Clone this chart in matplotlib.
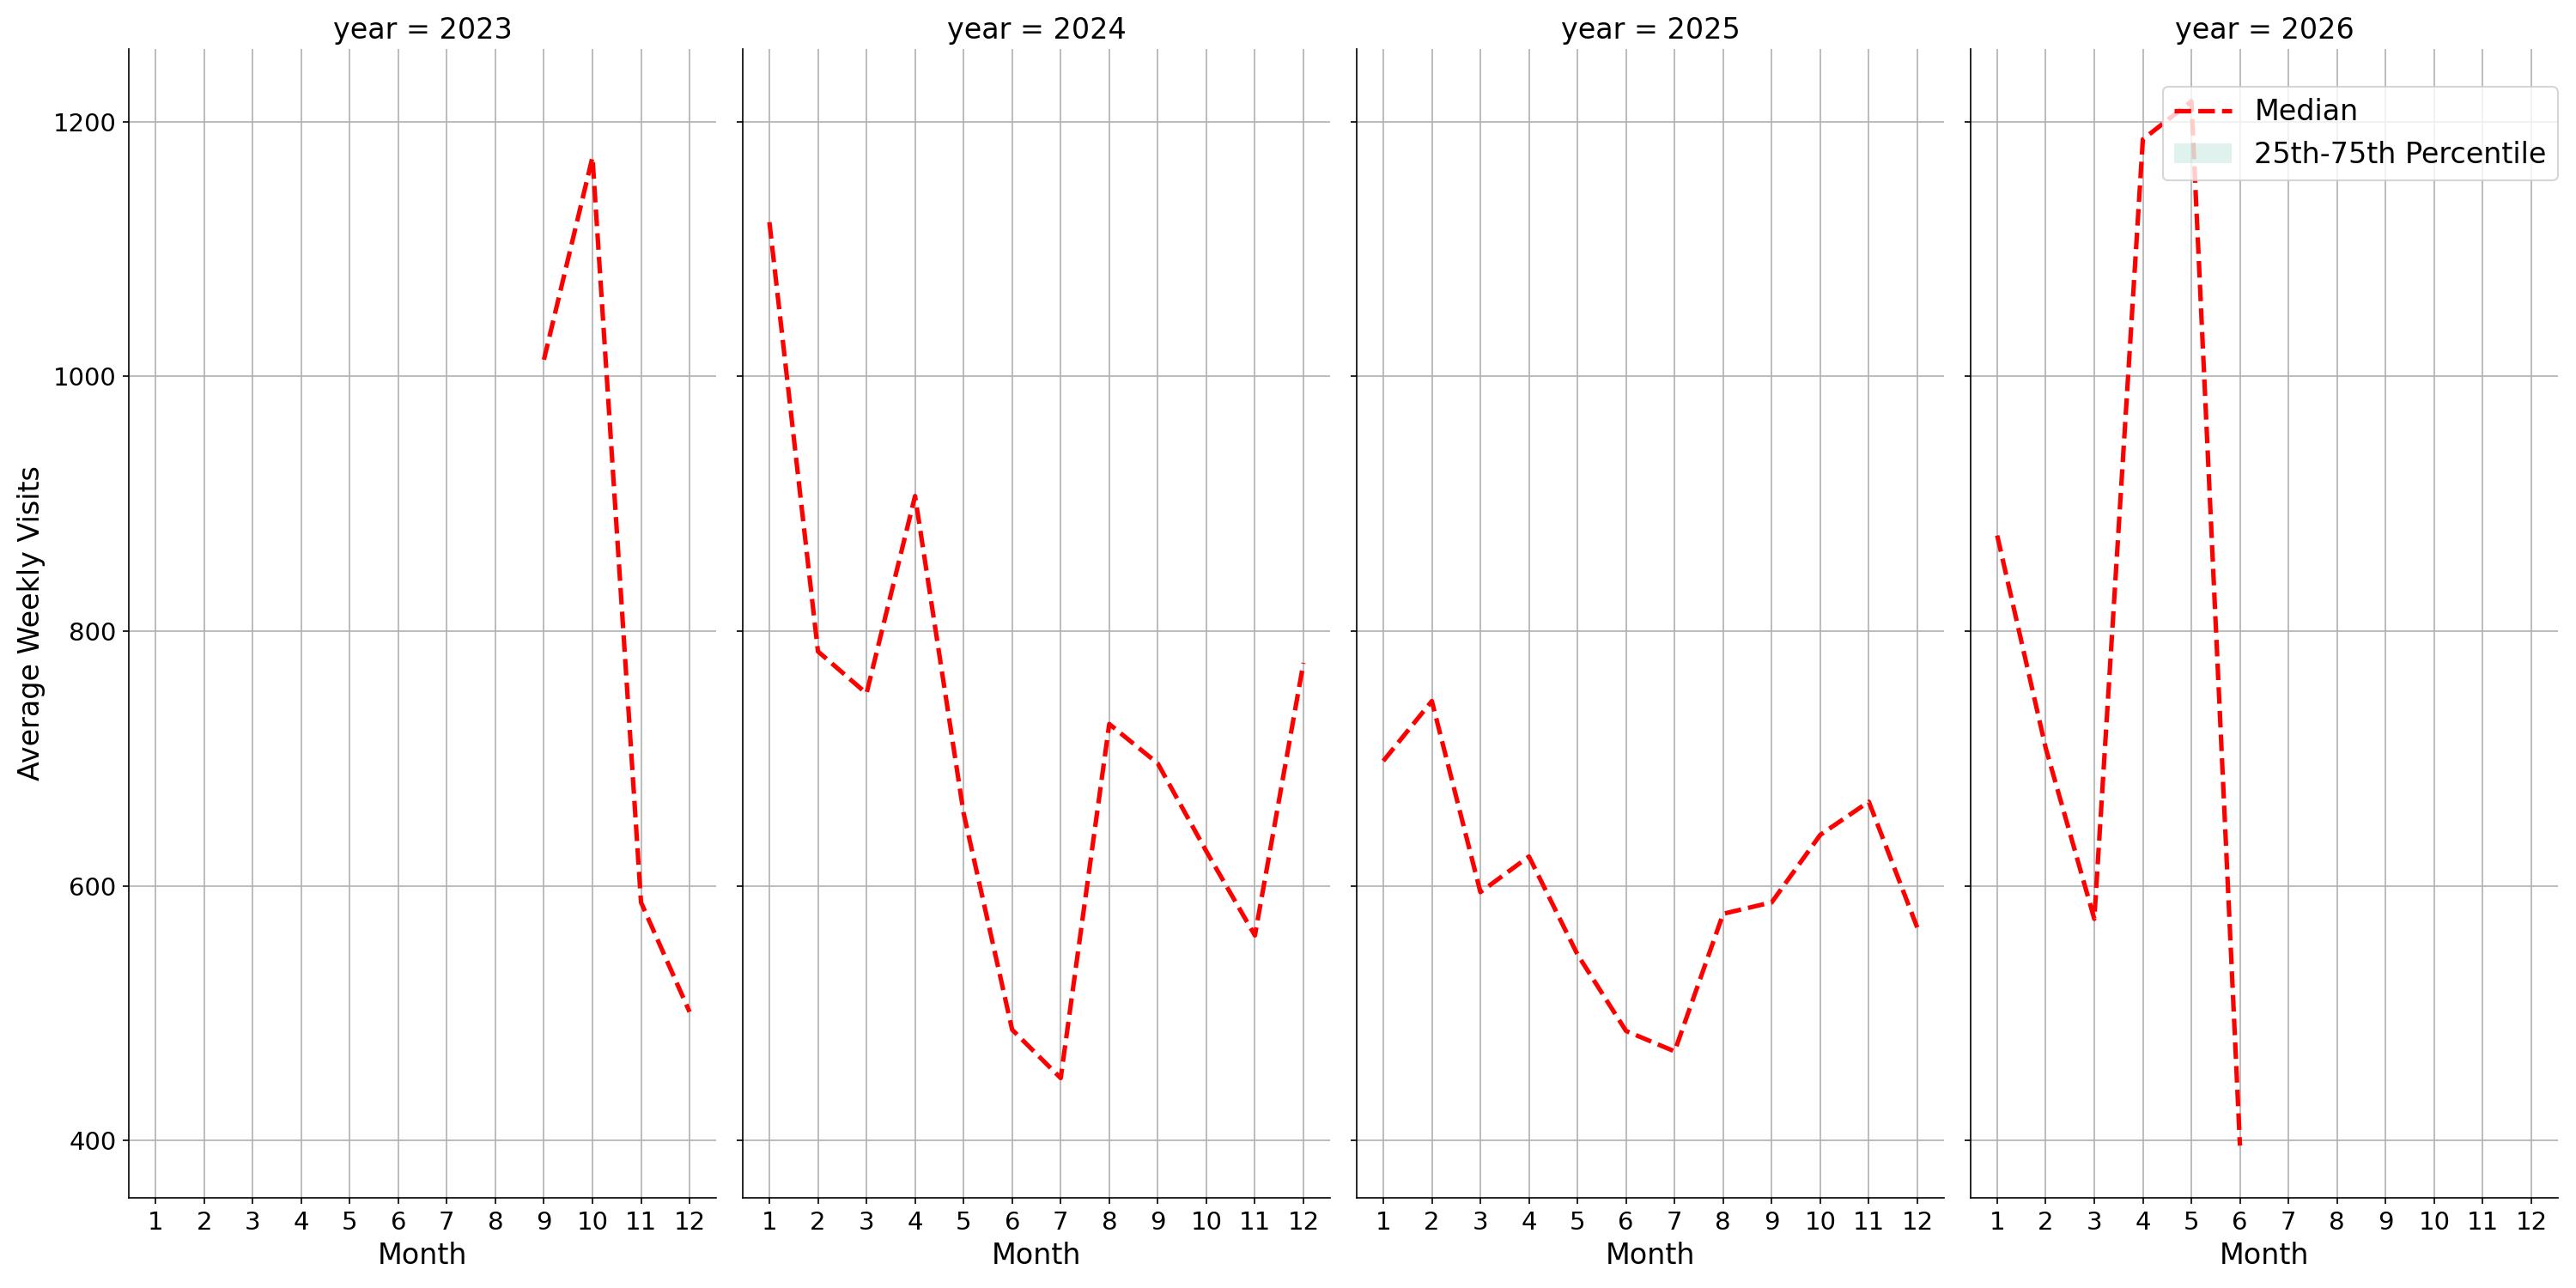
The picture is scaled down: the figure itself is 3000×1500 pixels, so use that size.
import numpy as np
import matplotlib
matplotlib.use("Agg")
import matplotlib.pyplot as plt
from matplotlib.ticker import MultipleLocator

# median weekly visits by month, one list per year
years = [2023, 2024, 2025, 2026]
months_2023 = [9, 10, 11, 12]
median_2023 = [1013, 1172, 587, 501]
months_2024 = [1, 2, 3, 4, 5, 6, 7, 8, 9, 10, 11, 12]
median_2024 = [1121, 784, 751, 906, 657, 487, 449, 727, 696, 627, 561, 775]
months_2025 = [1, 2, 3, 4, 5, 6, 7, 8, 9, 10, 11, 12]
median_2025 = [698, 745, 595, 623, 546, 486, 470, 578, 587, 640, 666, 567]
months_2026 = [1, 2, 3, 4, 5, 6]
median_2026 = [875, 708, 574, 1186, 1216, 396]

# only one value per month, so 25th and 75th percentiles equal the median
months = [months_2023, months_2024, months_2025, months_2026]
medians = [median_2023, median_2024, median_2025, median_2026]

plt.rcParams['font.family'] = ['DejaVu Sans']
plt.rcParams['xtick.labelsize'] = 14
plt.rcParams['ytick.labelsize'] = 14

fig, axes = plt.subplots(1, 4, figsize=(20, 10), sharex=True, sharey=True)
fig.subplots_adjust(left=0.050, right=0.993, top=0.962, bottom=0.07, wspace=0.045)

for ax, yr, m, med in zip(axes, years, months, medians):
    m = np.array(m)
    med = np.array(med)
    ax.fill_between(m, med, med, color='#66c2a5', alpha=0.2, linewidth=0,
                    label='25th-75th Percentile')
    ax.plot(m, med, color='red', linestyle='--', linewidth=2.5, label='Median')
    ax.set_title(f"year = {yr}", fontsize=16)
    ax.set_xlabel("Month", fontsize=16)
    ax.grid(True)
    ax.set_axisbelow(True)
    ax.spines['top'].set_visible(False)
    ax.spines['right'].set_visible(False)

axes[0].set_xticks(range(1, 13))
axes[0].yaxis.set_major_locator(MultipleLocator(200))
axes[0].set_ylabel("Average Weekly Visits", fontsize=16)

h, l = axes[-1].get_legend_handles_labels()
axes[-1].legend([h[1], h[0]], [l[1], l[0]], loc='upper right', fontsize=16,
                bbox_to_anchor=(1.0, 0.967), borderaxespad=0)

fig.savefig("out.png", dpi=150)
